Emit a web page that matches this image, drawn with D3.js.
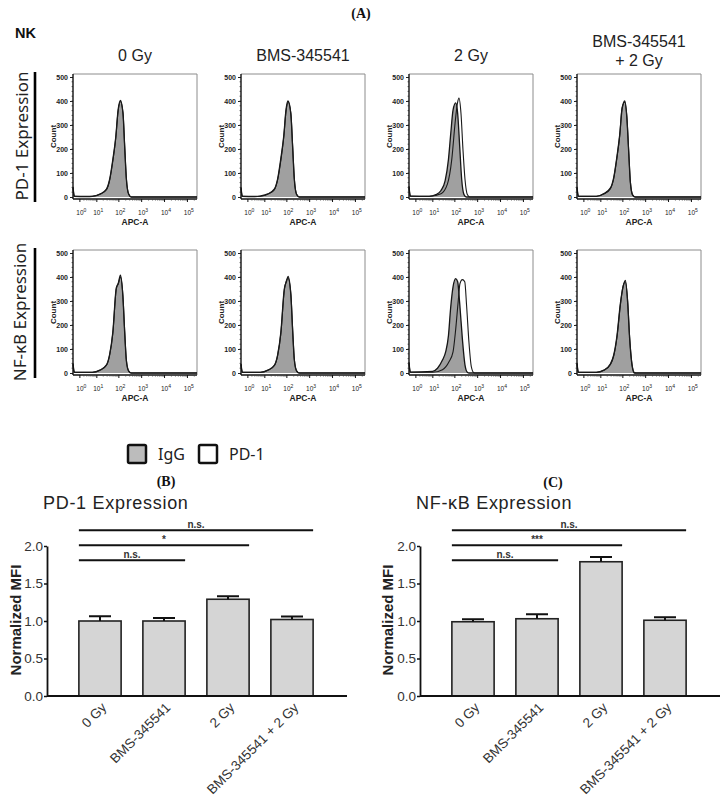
<!DOCTYPE html>
<html>
<head>
<meta charset="utf-8">
<script src="https://cdn.jsdelivr.net/npm/d3@7"></script>
<style>
  body { margin: 0; background: #fff; }
  svg { display: block; }
</style>
</head>
<body>
<svg width="723" height="802"></svg>
<script>
// ---- panel A: flow histograms (APC value, count) ----
var histTitles = [["0 Gy"], ["BMS-345541"], ["2 Gy"], ["BMS-345541", "+ 2 Gy"]];
var histRows = ["PD-1 Expression", "NF-κB Expression"];
var countTicks = [0, 100, 200, 300, 400, 500];
var apcTicks = [1, 10, 100, 1000, 10000, 100000];
var apcExp = ["0", "1", "2", "3", "4", "5"];

var pd1_0gy_igg = [[0,42],[0.15,3],[3,2],[6,3],[14,12],[28,33],[39,74],[54,156],[73,250],[92,360],[117,402],[152,348],[180,210],[214,74],[269,12],[353,0],[262144,0]];
var pd1_0gy_pd1 = [[0,38],[0.15,3],[3,2],[6,3],[14,11],[28,30],[39,70],[54,150],[73,246],[92,356],[117,398],[152,352],[180,216],[214,78],[269,13],[353,0],[262144,0]];
var pd1_bms_igg = [[0,40],[0.15,3],[3,2],[6,4],[14,13],[28,34],[39,76],[54,160],[73,255],[92,365],[112,400],[150,345],[180,205],[214,70],[269,10],[353,0],[262144,0]];
var pd1_bms_pd1 = [[0,36],[0.15,3],[3,2],[6,3],[14,12],[28,31],[39,72],[54,152],[73,250],[92,358],[115,396],[150,350],[180,212],[214,75],[269,12],[353,0],[262144,0]];
var pd1_2gy_igg = [[0,45],[0.15,4],[6.6,3],[14,10],[24,27],[37,68],[52,157],[66,266],[83,362],[109,392],[133,348],[163,212],[199,75],[252,10],[320,0],[262144,0]];
var pd1_2gy_pd1 = [[0,40],[0.15,3],[6.6,3],[24,14],[47,55],[73,157],[102,307],[129,389],[152,412],[186,348],[227,198],[278,75],[353,10],[445,0],[262144,0]];
var pd1_combo_igg = [[0,42],[0.15,3],[6,3],[14,14],[28,38],[39,80],[54,165],[73,262],[92,365],[121,400],[150,330],[180,190],[214,60],[269,8],[353,0],[262144,0]];
var pd1_combo_pd1 = [[0,38],[0.15,3],[6,3],[14,13],[28,35],[39,76],[54,160],[73,258],[92,372],[121,395],[150,335],[180,196],[214,64],[269,9],[353,0],[262144,0]];

var nfkb_0gy_igg = [[0,40],[0.15,3],[6,3],[14,12],[28,34],[39,78],[54,170],[77,355],[95,375],[117,408],[150,320],[180,170],[214,50],[269,8],[353,0],[262144,0]];
var nfkb_0gy_pd1 = [[0,36],[0.15,3],[6,3],[14,11],[28,32],[39,75],[54,165],[77,350],[95,372],[117,400],[150,326],[180,178],[214,55],[269,9],[353,0],[262144,0]];
var nfkb_bms_igg = [[0,38],[0.15,3],[6,3],[14,12],[28,33],[39,76],[54,168],[77,350],[95,380],[113,402],[150,325],[180,175],[214,52],[269,8],[353,0],[262144,0]];
var nfkb_bms_pd1 = [[0,35],[0.15,3],[6,3],[14,11],[28,31],[39,73],[54,163],[77,345],[95,385],[113,395],[150,330],[180,180],[214,56],[269,9],[353,0],[262144,0]];
var nfkb_2gy_igg = [[0,45],[0.15,4],[9.7,7],[16.6,20],[28,54],[39,88],[52,156],[65,271],[83,359],[109,393],[133,380],[163,291],[214,142],[278,34],[353,3],[420,0],[262144,0]];
var nfkb_2gy_pd1 = [[0,40],[0.15,3],[9.7,3],[28,14],[55,47],[83,88],[109,183],[138,291],[168,373],[214,389],[272,380],[329,278],[415,129],[527,27],[685,1],[800,0],[262144,0]];
var nfkb_combo_igg = [[0,42],[0.15,3],[6,3],[14,12],[28,38],[39,74],[55,156],[78,291],[102,359],[129,386],[163,291],[199,142],[252,33],[320,0],[262144,0]];
var nfkb_combo_pd1 = [[0,38],[0.15,3],[6,3],[14,11],[28,35],[39,70],[55,150],[78,285],[102,362],[129,380],[163,300],[199,150],[252,38],[320,2],[380,0],[262144,0]];

var histPanels = [
	[[pd1_0gy_igg, pd1_0gy_pd1], [pd1_bms_igg, pd1_bms_pd1], [pd1_2gy_igg, pd1_2gy_pd1], [pd1_combo_igg, pd1_combo_pd1]],
	[[nfkb_0gy_igg, nfkb_0gy_pd1], [nfkb_bms_igg, nfkb_bms_pd1], [nfkb_2gy_igg, nfkb_2gy_pd1], [nfkb_combo_igg, nfkb_combo_pd1]]
];
var legendLabels = ["IgG", "PD-1"];

// ---- panels B and C: normalized MFI bars ----
var barCats = ["0 Gy", "BMS-345541", "2 Gy", "BMS-345541 + 2 Gy"];
var mfiTicks = [0, 0.5, 1.0, 1.5, 2.0];
var pd1Mfi = [1.00, 1.00, 1.29, 1.02];
var pd1Sem = [0.065, 0.04, 0.04, 0.04];
var nfkbMfi = [0.99, 1.03, 1.79, 1.01];
var nfkbSem = [0.035, 0.06, 0.065, 0.04];
var pd1Sig = [[0, 1, "n.s."], [0, 2, "*"], [0, 3, "n.s."]];
var nfkbSig = [[0, 1, "n.s."], [0, 2, "***"], [0, 3, "n.s."]];
var sigLevels = [1.81, 2.01, 2.21];

var svg = d3.select("svg");
var sans = "'Liberation Sans', Arial, sans-serif";
var soft = "'Noto Sans', 'Open Sans', sans-serif";
var serif = "'Liberation Serif', 'Times New Roman', serif";

function label(x, y, txt, size, opts) {
	opts = opts || {};
	return svg.append("text")
		.attr("x", x).attr("y", y)
		.attr("font-family", opts.family || sans)
		.attr("font-size", size)
		.attr("font-weight", opts.weight || "normal")
		.attr("text-anchor", opts.anchor || "start")
		.attr("fill", opts.fill || "#222")
		.text(txt);
}

// panel letters
label(361, 18, "(A)", 14, {family: serif, weight: "bold", anchor: "middle", fill: "#111"});
label(166, 486, "(B)", 14, {family: serif, weight: "bold", anchor: "middle", fill: "#111"});
label(553, 487, "(C)", 14, {family: serif, weight: "bold", anchor: "middle", fill: "#111"});
label(15, 38, "NK", 14.5, {weight: "bold", fill: "#111"});

var colX = [73, 241, 409, 577], rowTop = [74, 250];
var hw = 124, hh = 125;

// column titles
histTitles.forEach(function(lines, i) {
	var cx = colX[i] + hw / 2;
	if (lines.length === 1) {
		label(cx, 61, lines[0], 16, {anchor: "middle"});
	} else {
		label(cx, 47, lines[0], 16, {anchor: "middle"});
		label(cx, 66, lines[1], 16, {anchor: "middle"});
	}
});

// row labels with black bars
histRows.forEach(function(txt, r) {
	var top = rowTop[r];
	svg.append("text")
		.attr("transform", "translate(" + (r === 0 ? 28 : 26) + "," + (top + 62) + ") rotate(-90)")
		.attr("font-family", soft).attr("font-size", 17).attr("fill", "#222")
		.attr("text-anchor", "middle")
		.text(txt);
	svg.append("line")
		.attr("x1", 35).attr("x2", 35)
		.attr("y1", top - 2).attr("y2", top + hh + 3)
		.attr("stroke", "#000").attr("stroke-width", 2.6);
});

var minorApc = [];
[1, 10, 100, 1000, 10000, 100000].forEach(function(d) {
	for (var k = 2; k <= 9; k++) if (d * k < 262144) minorApc.push(d * k);
});

function drawHist(x0, top, igg, pd1) {
	var bottom = top + hh;
	var g = svg.append("g");
	var x = d3.scaleSymlog().constant(1).domain([0, 262144]).range([x0, x0 + hw]);
	var y = d3.scaleLinear().domain([0, 500]).range([bottom - 2, top + 3]);
	var area = d3.area().curve(d3.curveMonotoneX)
		.x(function(d) { return x(d[0]); })
		.y0(y(0))
		.y1(function(d) { return y(d[1]); });
	var line = d3.line().curve(d3.curveMonotoneX)
		.x(function(d) { return x(d[0]); })
		.y(function(d) { return y(d[1]); });

	g.append("path")
		.attr("d", "M" + x0 + "," + top + "H" + (x0 + hw) + "V" + bottom)
		.attr("fill", "none").attr("stroke", "#8c8c8c").attr("stroke-width", 1);

	g.append("path").datum(pd1).attr("d", area).attr("fill", "#fff");
	g.append("path").datum(igg).attr("d", area).attr("fill", "#a0a0a0");
	g.append("path").datum(igg).attr("d", line)
		.attr("fill", "none").attr("stroke", "#151515").attr("stroke-width", 1.3);
	g.append("path").datum(pd1).attr("d", line)
		.attr("fill", "none").attr("stroke", "#1a1a1a").attr("stroke-width", 1.1);

	// left axis
	var yAxis = g.append("g")
		.attr("transform", "translate(" + x0 + ",0)")
		.call(d3.axisLeft(y).tickValues(countTicks).tickSize(3).tickSizeOuter(0).tickPadding(2));
	yAxis.select(".domain").remove();
	yAxis.selectAll("text")
		.attr("font-family", sans).attr("font-size", 7).attr("font-weight", "bold").attr("fill", "#222");
	yAxis.selectAll(".tick line").attr("stroke", "#222");
	g.selectAll(".ymin").data(d3.range(20, 500, 20)).enter().append("line")
		.attr("x1", x0 - 1.5).attr("x2", x0)
		.attr("y1", function(d) { return y(d); }).attr("y2", function(d) { return y(d); })
		.attr("stroke", "#555").attr("stroke-width", 0.8);
	g.append("line").attr("x1", x0).attr("x2", x0).attr("y1", top).attr("y2", bottom)
		.attr("stroke", "#111").attr("stroke-width", 1.4);

	// bottom axis
	g.append("line").attr("x1", x0).attr("x2", x0 + hw).attr("y1", bottom).attr("y2", bottom)
		.attr("stroke", "#111").attr("stroke-width", 1.4);
	g.selectAll(".xmaj").data(apcTicks).enter().append("line")
		.attr("x1", function(d) { return x(d); }).attr("x2", function(d) { return x(d); })
		.attr("y1", bottom).attr("y2", bottom + 3)
		.attr("stroke", "#111").attr("stroke-width", 1);
	g.selectAll(".xmin").data(minorApc).enter().append("line")
		.attr("x1", function(d) { return x(d); }).attr("x2", function(d) { return x(d); })
		.attr("y1", bottom).attr("y2", bottom + 1.6)
		.attr("stroke", "#444").attr("stroke-width", 0.7);
	var tl = g.selectAll(".xlab").data(apcTicks).enter().append("text")
		.attr("x", function(d) { return x(d) - 3.6; })
		.attr("y", bottom + 16)
		.attr("font-family", sans).attr("font-size", 6.5).attr("fill", "#222");
	tl.append("tspan").text("10");
	tl.append("tspan").attr("dy", -3).attr("font-size", 5)
		.text(function(d, i) { return apcExp[i]; });

	g.append("text")
		.attr("x", x0 + hw / 2).attr("y", bottom + 26)
		.attr("text-anchor", "middle")
		.attr("font-family", sans).attr("font-size", 8.5).attr("font-weight", "bold").attr("fill", "#222")
		.text("APC-A");
	g.append("text")
		.attr("transform", "translate(" + (x0 - 17) + "," + (top + hh / 2) + ") rotate(-90)")
		.attr("text-anchor", "middle")
		.attr("font-family", sans).attr("font-size", 8).attr("font-weight", "bold").attr("fill", "#222")
		.text("Count");
}

histPanels.forEach(function(row, r) {
	row.forEach(function(pair, c) {
		drawHist(colX[c], rowTop[r], pair[0], pair[1]);
	});
});

// legend
var legX = [128, 199], legFill = ["#bcbcbc", "#fff"];
legendLabels.forEach(function(txt, i) {
	svg.append("rect")
		.attr("x", legX[i]).attr("y", 445).attr("width", 18).attr("height", 18).attr("rx", 1.5)
		.attr("fill", legFill[i]).attr("stroke", "#111").attr("stroke-width", 2.5);
	label(legX[i] + 30, 460, txt, 16, {family: soft, fill: "#222"});
});

function drawBars(ax, title, vals, sems, sigs, ylabX) {
	var g = svg.append("g");
	var y = d3.scaleLinear().domain([0, 2]).range([696, 546]);
	var x = d3.scaleBand().domain(barCats).range([ax + 21, ax + 277])
		.paddingInner(0.34).paddingOuter(0.17);

	label(ax - 4, 509, title, 18, {fill: "#222"}).attr("letter-spacing", 0.7);

	g.selectAll(".bar").data(vals).enter().append("rect")
		.attr("x", function(d, i) { return x(barCats[i]); })
		.attr("y", function(d) { return y(d); })
		.attr("width", x.bandwidth())
		.attr("height", function(d) { return y(0) - y(d); })
		.attr("fill", "#d5d5d5").attr("stroke", "#222").attr("stroke-width", 1.6);

	var cx = function(i) { return x(barCats[i]) + x.bandwidth() / 2; };
	g.selectAll(".err").data(vals).enter().append("path")
		.attr("d", function(d, i) {
			var top = y(d + sems[i]);
			return "M" + cx(i) + "," + y(d) + "V" + top + "M" + (cx(i) - 11) + "," + top + "H" + (cx(i) + 11);
		})
		.attr("fill", "none").attr("stroke", "#111").attr("stroke-width", 2);

	// axes
	var yAxis = g.append("g")
		.attr("transform", "translate(" + ax + ",0)")
		.call(d3.axisLeft(y).tickValues(mfiTicks).tickFormat(d3.format(".1f")).tickSize(3).tickSizeOuter(0).tickPadding(1));
	yAxis.select(".domain").attr("stroke", "#111").attr("stroke-width", 1.8);
	yAxis.selectAll(".tick line").attr("stroke", "#111").attr("stroke-width", 1.5);
	yAxis.selectAll("text").attr("font-family", sans).attr("font-size", 13.5).attr("fill", "#333");

	g.append("line").attr("x1", ax).attr("x2", ax + 300).attr("y1", y(0)).attr("y2", y(0))
		.attr("stroke", "#111").attr("stroke-width", 1.8);

	var xAxis = g.append("g")
		.attr("transform", "translate(0," + y(0) + ")")
		.call(d3.axisBottom(x).tickSize(0));
	xAxis.select(".domain").remove();
	xAxis.selectAll("text")
		.attr("font-family", sans).attr("font-size", 13.5).attr("fill", "#333")
		.attr("text-anchor", "end")
		.attr("x", 0).attr("y", 0).attr("dy", "0.35em")
		.attr("transform", "translate(4,9) rotate(-45)");

	g.append("text")
		.attr("transform", "translate(" + ylabX + "," + (y(1) - 1) + ") rotate(-90)")
		.attr("text-anchor", "middle")
		.attr("font-family", sans).attr("font-size", 15).attr("font-weight", "bold").attr("fill", "#222")
		.text("Normalized MFI");

	// significance brackets
	sigs.forEach(function(s, k) {
		var x1 = x(barCats[s[0]]), x2 = x(barCats[s[1]]) + x.bandwidth();
		var ly = y(sigLevels[k]);
		g.append("line").attr("x1", x1).attr("x2", x2).attr("y1", ly).attr("y2", ly)
			.attr("stroke", "#111").attr("stroke-width", 1.8);
		g.append("text")
			.attr("x", (x1 + x2) / 2).attr("y", ly - 2.5)
			.attr("text-anchor", "middle")
			.attr("font-family", sans).attr("font-size", 10).attr("font-weight", "bold").attr("fill", "#333")
			.text(s[2]);
	});
}

drawBars(47, "PD-1 Expression", pd1Mfi, pd1Sem, pd1Sig, 21);
drawBars(420, "NF-κB Expression", nfkbMfi, nfkbSem, nfkbSig, 393);
</script>
</body>
</html>
